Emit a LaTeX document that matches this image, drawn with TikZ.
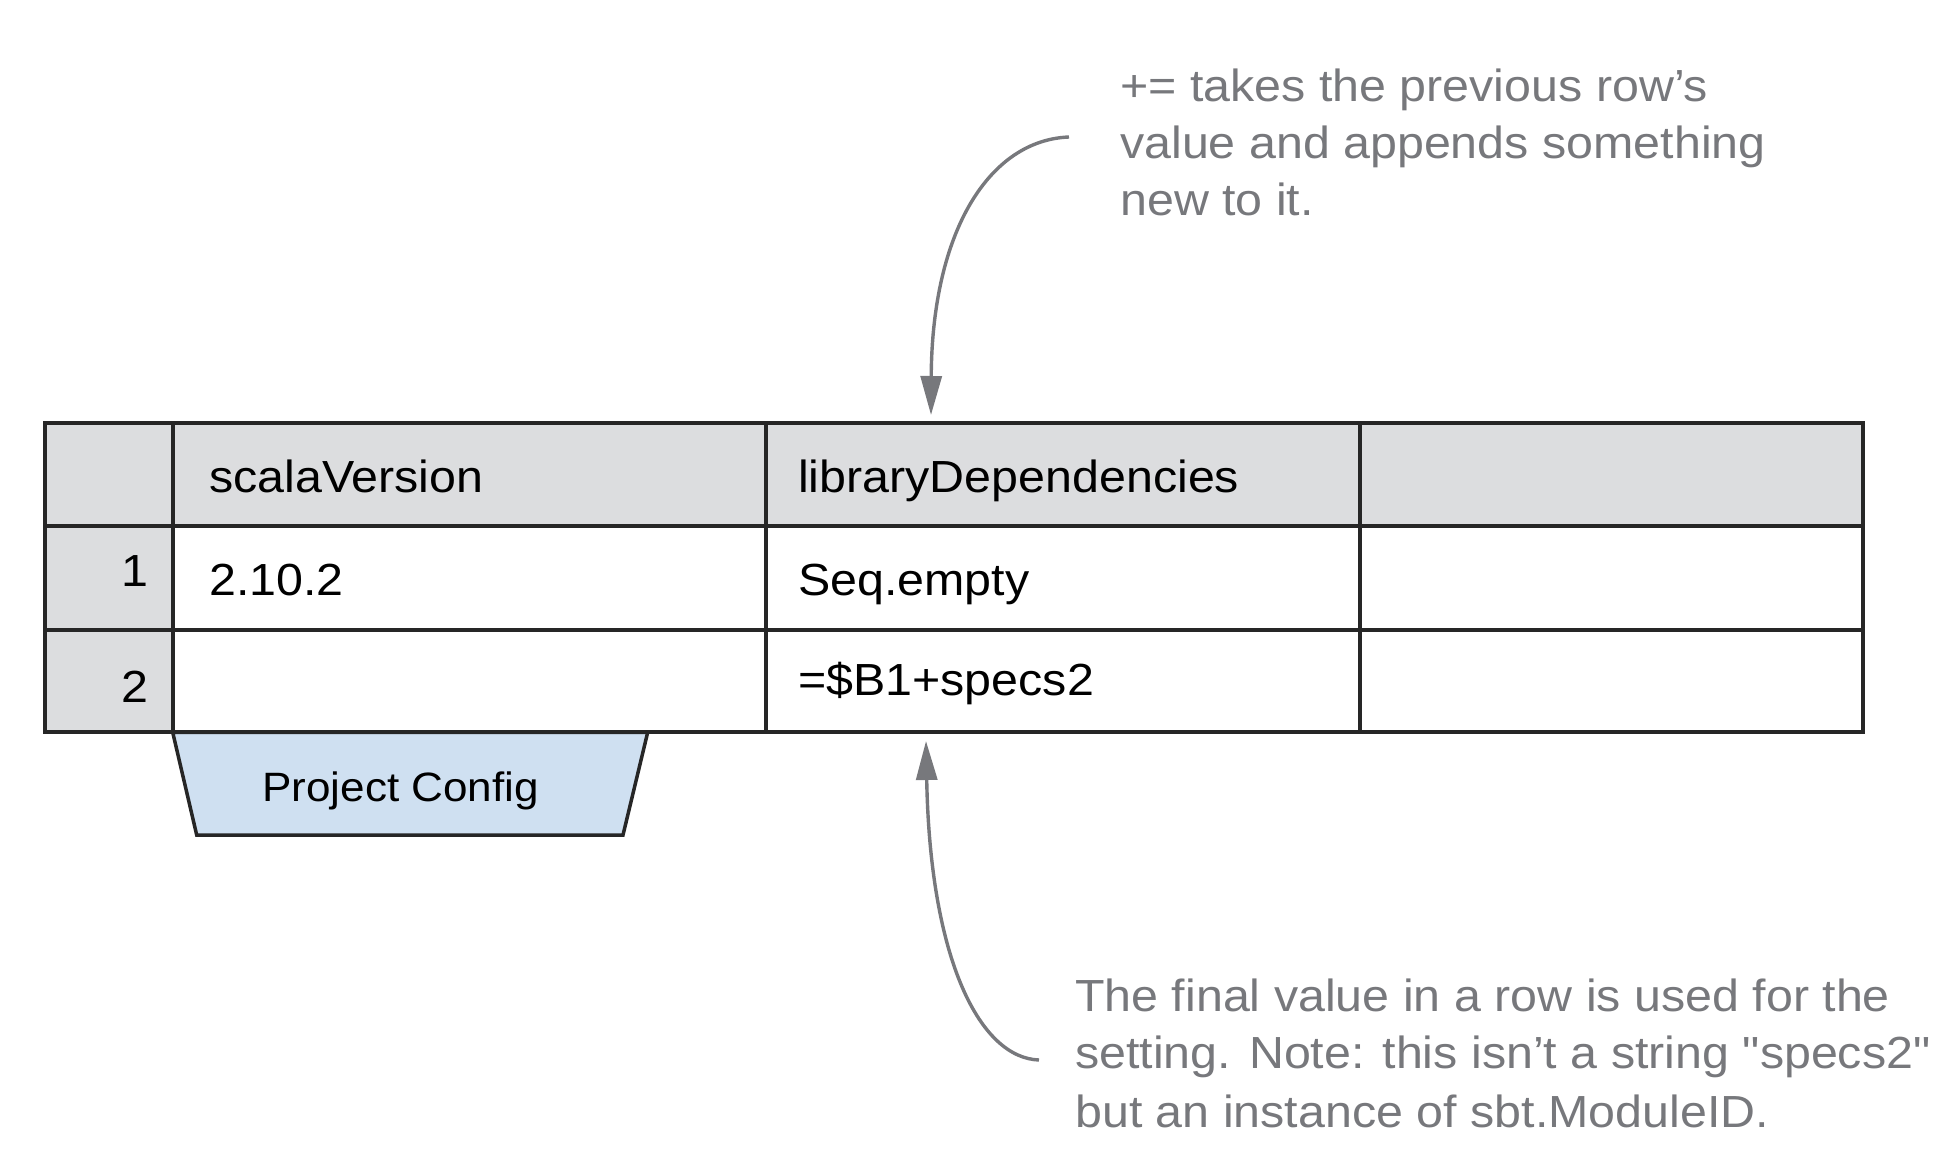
\documentclass[tikz,border=0pt]{standalone}
\usepackage{fontspec}
\setmainfont[FakeStretch=1.075, Ligatures=TeXOff]{Liberation Sans}
\usetikzlibrary{arrows.meta}
\definecolor{hdrgray}{RGB}{220,221,223}
\definecolor{linec}{RGB}{38,38,38}
\definecolor{notegray}{RGB}{119,120,124}
\definecolor{cfgblue}{RGB}{207,224,241}
\begin{document}
\begin{tikzpicture}[x=1pt,y=-1pt,
  celltext/.style={inner sep=0pt, anchor=base west, font=\fontsize{45}{54}\selectfont, text=black},
  rownum/.style={inner sep=0pt, anchor=base east, font=\fontsize{45}{54}\selectfont, text=black},
  notetext/.style={inner sep=0pt, anchor=base west, font=\fontsize{45}{54}\selectfont, text=notegray},
  gridline/.style={line width=4pt, draw=linec, line cap=rect},
  callout/.style={line width=3.4pt, draw=notegray, -{Triangle[length=39pt,width=21pt]}},
]
\useasboundingbox (0,0) rectangle (1938,1158);

% Project Config tab
\draw[line width=3.5pt, draw=linec, fill=cfgblue, line join=miter]
  (172.7,732.3) -- (647.7,732.3) -- (623,835) -- (196.7,835) -- cycle;
\node[inner sep=0pt, anchor=base west, font=\fontsize{41}{49}\selectfont] (pc) at (262,801.7) {Project Config};

% table fills
\fill[hdrgray] (45,422.7) rectangle (1863,526);
\fill[hdrgray] (45,526) rectangle (172.7,732.3);

% grid
\draw[gridline] (45,422.7) rectangle (1863,732.3);
\draw[gridline] (45,526) -- (1863,526);
\draw[gridline] (45,630) -- (1863,630);
\draw[gridline] (172.7,422.7) -- (172.7,732.3);
\draw[gridline] (766.3,422.7) -- (766.3,732.3);
\draw[gridline] (1360,422.7) -- (1360,732.3);

% cell texts
\node[celltext] (hA) at (209,492.7) {scalaVersion};
\node[celltext] (hB) at (798,492.7) {libraryDependencies};
\node[rownum] (r1) at (149,586.7) {1};
\node[rownum] (r2) at (149,702.3) {2};
\node[celltext] (a1) at (209,595) {2.10.2};
\node[celltext] (b1) at (798,595) {Seq.empty};
\node[celltext] (b2) at (798,695) {=\$B1+specs2};

% top note
\node[notetext] (t1) at (1120,101.7) {+= takes the previous row’s};
\node[notetext] (t2) at (1120,158.3) {value and appends something};
\node[notetext] (t3) at (1120,216) {new to it.};

% bottom note
\node[notetext] (n1) at (1075,1011.7) {The final value in a row is used for the};
\node[notetext] (n2) at (1075,1068.3) {setting. Note: this isn’t a string "specs2"};
\node[notetext] (n3) at (1075,1127.3) {but an instance of sbt.ModuleID.};

% connectors
\coordinate (topStart) at (1069,137);
\coordinate (topEnd) at (931,415);
\coordinate (botStart) at (1039,1060);
\coordinate (botEnd) at (926,741);
\draw[callout] (topStart) .. controls (990,140) and (932,230) .. (topEnd);
\draw[callout] (botStart) .. controls (980,1058) and (930,960) .. (botEnd);
\end{tikzpicture}
\end{document}
